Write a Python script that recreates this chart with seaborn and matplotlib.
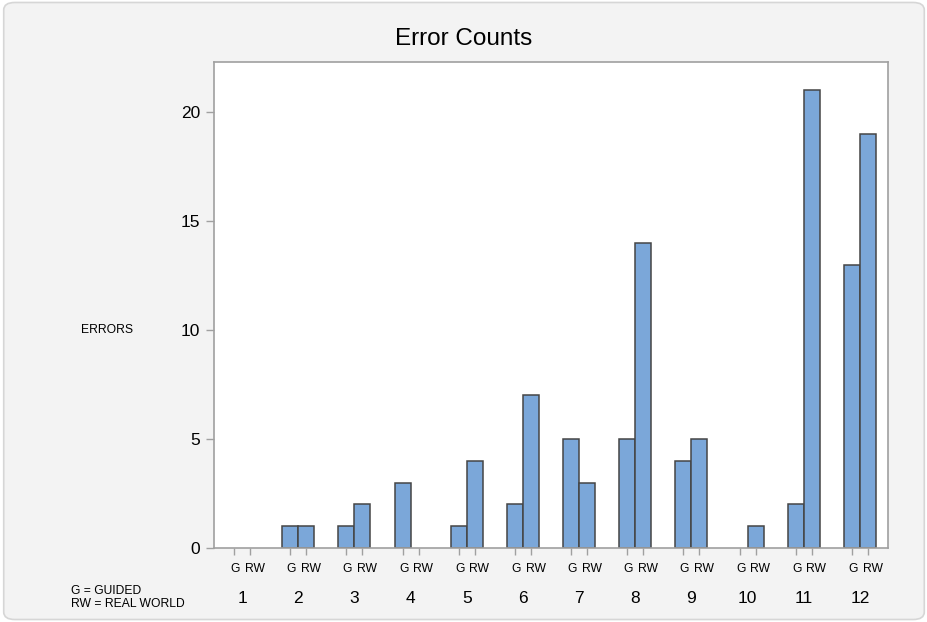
import pandas as pd
import matplotlib.pyplot as plt
import seaborn as sns
from matplotlib.patches import FancyBboxPatch

sns.set_theme(style='white')
plt.rcParams['font.family'] = ['Liberation Sans', 'DejaVu Sans']
plt.rcParams['text.color'] = 'black'
plt.rcParams['xtick.color'] = 'black'
plt.rcParams['ytick.color'] = 'black'

# ─── Data ────────────────────────────────────────────────────
groups = ['1', '2', '3', '4', '5', '6', '7', '8', '9', '10', '11', '12']
guided = [0, 1, 1, 3, 1, 2, 5, 5, 4, 0, 2, 13]
real_world = [0, 1, 2, 0, 4, 7, 3, 14, 5, 1, 21, 19]
conditions = ['G', 'RW']

df = pd.DataFrame({
    'group': groups * 2,
    'errors': guided + real_world,
    'condition': ['G'] * len(groups) + ['RW'] * len(groups),
})

# ─── Figure ──────────────────────────────────────────────────
fig = plt.figure(figsize=(9.28, 6.22), dpi=100)
fig.patch.set_facecolor('white')
frame = FancyBboxPatch((0.004, 0.004), 0.992, 0.992, transform=fig.transFigure,
                       boxstyle='round,pad=0,rounding_size=0.012',
                       facecolor='#f3f3f3', edgecolor='#d6d6d6', linewidth=1.2,
                       zorder=-10)
fig.patches.append(frame)

ax = fig.add_axes([0.2306, 0.119, 0.7263, 0.7814])
ax.set_facecolor('white')

sns.barplot(data=df, x='group', y='errors', hue='condition', order=groups,
            hue_order=conditions, palette=['#7ba7d9', '#7ba7d9'], width=0.57,
            edgecolor='#454545', linewidth=1.1, saturation=1, legend=False, ax=ax)

# no outline for empty bars
for bar in ax.patches:
    if bar.get_height() == 0:
        bar.set_linewidth(0)

ax.set_xlim(-0.5, 11.5)
ax.set_ylim(0, 22.3)
ax.set_xlabel('')
ax.set_ylabel('')

for s in ax.spines.values():
    s.set_color('#a0a0a0')
    s.set_linewidth(1.2)

# y ticks
ax.set_yticks([0, 5, 10, 15, 20])
ax.tick_params(axis='y', which='major', left=True, length=6, width=1,
               color='#a0a0a0', labelcolor='black', labelsize=12.5, pad=4)

# G / RW minor ticks under each bar, labels placed a little apart
pos = []
offsets = {'G': 0.8, 'RW': 3.3}
for cont, cond in zip(ax.containers, conditions):
    for bar in cont:
        x = bar.get_x() + bar.get_width() / 2
        pos.append(x)
        ax.annotate(cond, xy=(x, 0), xycoords=ax.get_xaxis_transform(),
                    xytext=(offsets[cond], -14.8), textcoords='offset points',
                    ha='center', va='center', fontsize=8.7, annotation_clip=False)
ax.set_xticks(pos, minor=True)
ax.set_xticklabels([''] * len(pos), minor=True)
ax.tick_params(axis='x', which='minor', bottom=True, length=5, width=1,
               color='#a0a0a0')
ax.tick_params(axis='x', which='major', bottom=False, length=0,
               labelcolor='black', labelsize=12.5, pad=31)

fig.text(0.5, 0.937, 'Error Counts', ha='center', va='center', fontsize=17.5)
fig.text(0.1153, 0.47, 'ERRORS', ha='center', va='center', fontsize=8.7)
fig.text(0.0765, 0.0394, 'G = GUIDED\nRW = REAL WORLD', ha='left', va='center',
         fontsize=8.7, linespacing=1.15)

fig.savefig('out.png', dpi=100, facecolor=fig.get_facecolor())
